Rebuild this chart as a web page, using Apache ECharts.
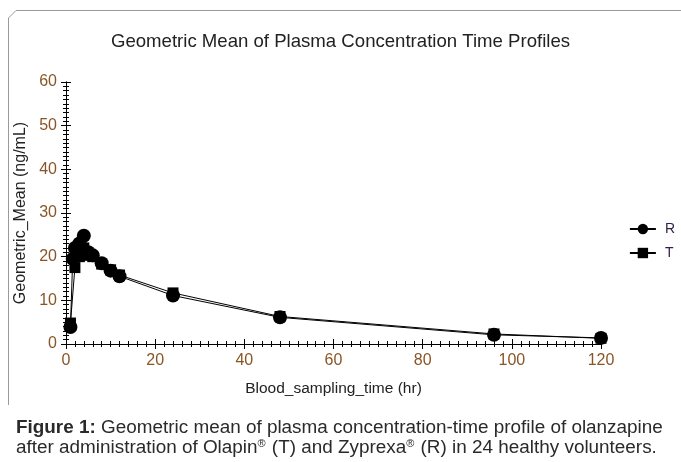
<!DOCTYPE html>
<html>
<head>
<meta charset="utf-8">
<script src="https://cdn.jsdelivr.net/npm/echarts@6/dist/echarts.min.js"></script>
<style>
html,body{margin:0;padding:0;background:#fff;}
#chart{width:681px;height:462px;}
</style>
</head>
<body>
<div id="chart"></div>
<script>
// Data
var timesR = [1, 1.5, 2, 3, 4, 5, 6, 8, 10, 12, 24, 48, 96, 120];
var valuesR = [3.9, 19.5, 22, 23, 24.8, 21, 20.3, 18.5, 16.8, 15.5, 11.1, 6.1, 2.1, 1.4];
var timesT = [1, 2, 3, 4, 5, 6, 8, 10, 12, 24, 48, 96, 120];
var valuesT = [4.8, 17.5, 20, 22, 20.3, 20, 18.3, 17, 15.8, 11.7, 6.3, 2.3, 1.3];
var seriesNames = ['R', 'T'];
var xTicks = [0, 20, 40, 60, 80, 100, 120];
var yTicks = [0, 10, 20, 30, 40, 50, 60];

function pairs(xs, ys) { return xs.map(function (x, i) { return [x, ys[i]]; }); }

var font = 'Liberation Sans, Arial, sans-serif';
var tickColor = '#8a5526';

var chart = echarts.init(document.getElementById('chart'), null, {renderer: 'canvas'});

function xAxisDef(inside, show) {
  return {
    type: 'value', min: xTicks[0], max: xTicks[xTicks.length - 1], interval: 20,
    position: 'bottom',
    name: show ? 'Blood_sampling_time (hr)' : '', nameLocation: 'middle', nameGap: 37,
    nameTextStyle: {fontFamily: font, fontSize: 15.5, color: '#222'},
    axisLine: {show: true, onZero: false, lineStyle: {color: '#000', width: 1}},
    axisTick: {show: true, inside: inside, length: 5, lineStyle: {color: '#000'}},
    minorTick: {show: true, splitNumber: 10, length: 3, lineStyle: {color: '#000'}},
    axisLabel: {show: show, fontFamily: font, fontSize: 16, color: tickColor, margin: 9},
    splitLine: {show: false}
  };
}
function yAxisDef(inside, show) {
  return {
    type: 'value', min: yTicks[0], max: yTicks[yTicks.length - 1], interval: 10,
    position: 'left',
    name: show ? 'Geometric_Mean (ng/mL)' : '', nameLocation: 'middle', nameGap: 35,
    nameTextStyle: {fontFamily: font, fontSize: 16, color: '#222'},
    axisLine: {show: true, onZero: false, lineStyle: {color: '#000', width: 1}},
    axisTick: {show: true, inside: inside, length: 5, lineStyle: {color: '#000'}},
    minorTick: {show: true, splitNumber: 10, length: 3, lineStyle: {color: '#000'}},
    axisLabel: {show: show, fontFamily: font, fontSize: 16, color: tickColor, margin: 9},
    splitLine: {show: false}
  };
}

var option = {
  animation: false,
  backgroundColor: '#fff',
  title: {
    text: 'Geometric Mean of Plasma Concentration Time Profiles',
    left: 'center', top: 27,
    textStyle: {fontFamily: font, fontSize: 18.6, fontWeight: 'normal', color: '#222'}
  },
  legend: {
    orient: 'vertical', right: 1, top: 217,
    itemWidth: 26, itemHeight: 13, itemGap: 10,
    textStyle: {fontFamily: font, fontSize: 14, color: '#33204a', padding: [0, 0, 0, 4]},
    data: seriesNames
  },
  grid: {left: 66, right: 80, top: 82, bottom: 118},
  xAxis: [xAxisDef(false, true), xAxisDef(true, false)],
  yAxis: [yAxisDef(false, true), yAxisDef(true, false)],
  graphic: [
    {type: 'polyline', shape: {points: [[8.5, 405], [8.5, 18], [16, 10.5], [690, 10.5]]},
     style: {stroke: '#9a9a9a', fill: null, lineWidth: 1}},
    {type: 'text', left: 16, top: 418,
     style: {
       text: '{b|Figure 1:} Geometric mean of plasma concentration-time profile of olanzapine',
       font: '18.9px ' + font, fill: '#2a2a2a',
       rich: {b: {fontWeight: 'bold', fontSize: 18.9, fontFamily: font, fill: '#2a2a2a'}}
     }},
    {type: 'text', left: 16, top: 438,
     style: {
       text: 'after administration of Olapin{s|®} (T) and Zyprexa{s|®} (R) in 24 healthy volunteers.',
       font: '18.9px ' + font, fill: '#2a2a2a',
       rich: {s: {fontSize: 11, fontFamily: font, fill: '#2a2a2a', verticalAlign: 'top', padding: [0, 1, 7, 0]}}
     }}
  ],
  series: [
    {
      name: 'T', type: 'line', data: pairs(timesT, valuesT),
      symbol: 'rect', symbolSize: 11, showAllSymbol: true,
      lineStyle: {color: '#000', width: 1},
      itemStyle: {color: '#000'}, z: 2
    },
    {
      name: 'R', type: 'line', data: pairs(timesR, valuesR),
      symbol: 'circle', symbolSize: 14, showAllSymbol: true,
      lineStyle: {color: '#000', width: 1},
      itemStyle: {color: '#000'}, z: 3
    }
  ]
};
chart.setOption(option);
</script>
</body>
</html>
